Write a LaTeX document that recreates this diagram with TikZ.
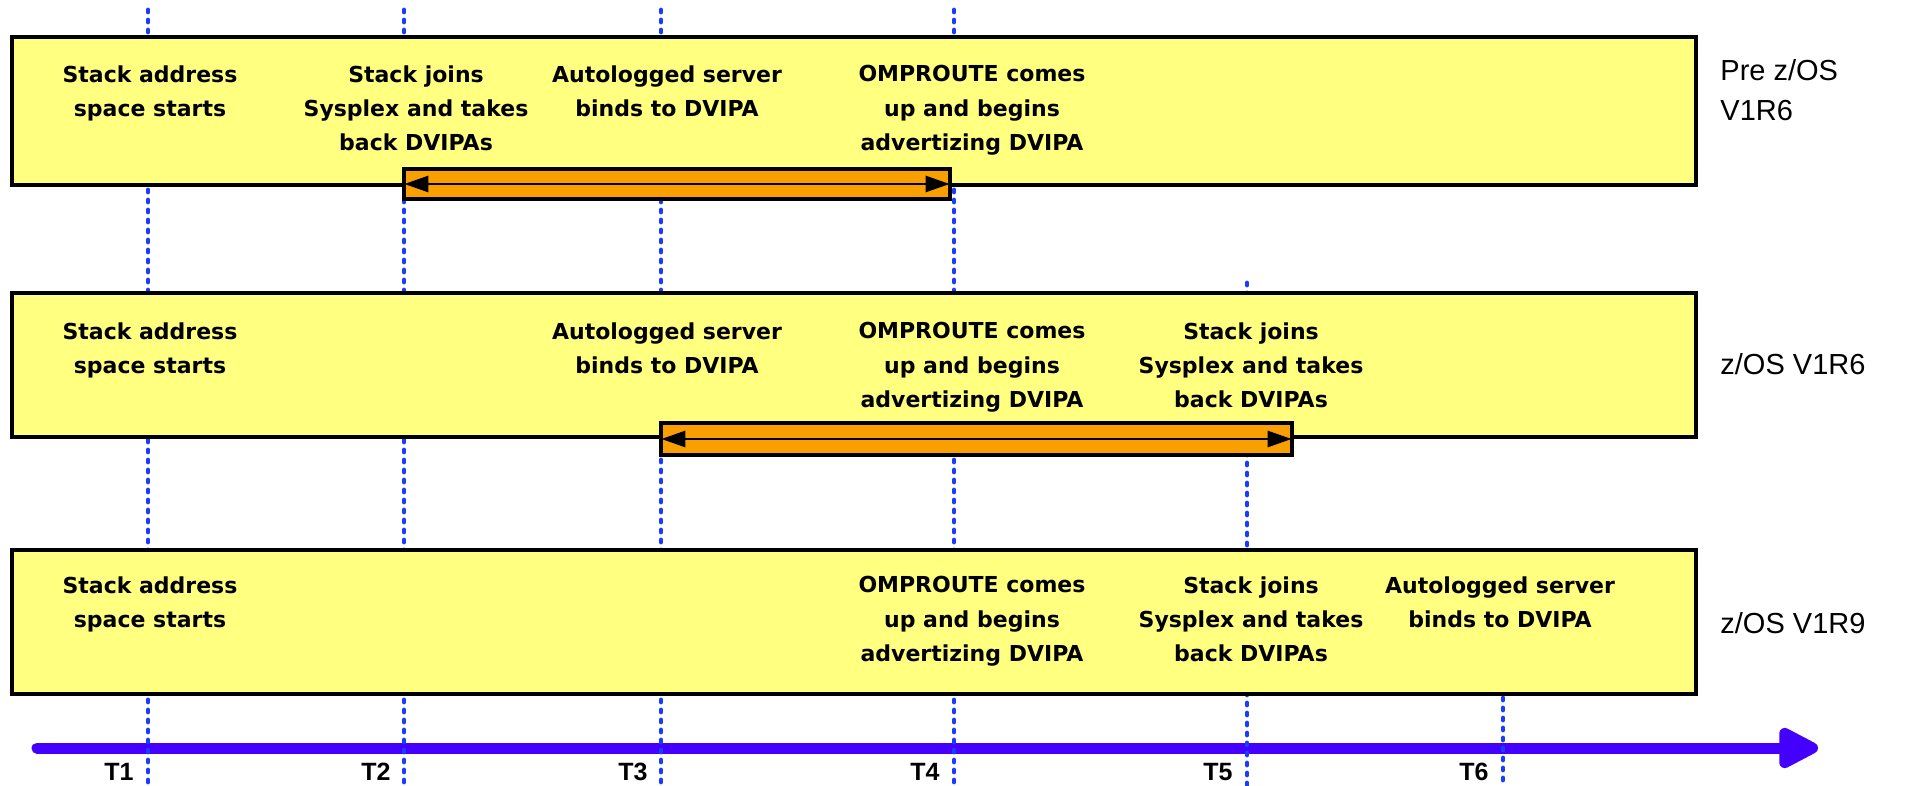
\documentclass[tikz,border=0pt]{standalone}
\usepackage{fontspec}
\setmainfont{DejaVu Sans}
\newfontfamily\arialf{Liberation Sans}
\usetikzlibrary{arrows.meta}
\definecolor{boxyellow}{HTML}{FFFF80}
\definecolor{barorange}{HTML}{F9A000}
\definecolor{dotblue}{HTML}{1A3CFF}
\definecolor{axisblue}{HTML}{4400FF}
\tikzset{
  tbox/.style={draw=black, line width=2.25pt, fill=boxyellow},
  bar/.style={draw=black, line width=2pt, fill=barorange, inner sep=0pt},
  span/.style={line width=1.4pt, {Triangle[length=12pt,width=8pt]}-{Triangle[length=12pt,width=8pt]}},
  tick/.style={dotblue, line width=2.4pt, line cap=round, dash pattern=on 1pt off 4pt},
  evt/.style={align=center, anchor=north, inner sep=0pt, font=\bfseries\fontsize{11}{17.2}\selectfont},
  rel/.style={align=left, anchor=west, inner sep=0pt, font=\arialf\fontsize{14.5}{20}\selectfont},
  tlab/.style={inner sep=0pt, font=\arialf\bfseries\fontsize{12.5}{14}\selectfont},
  axis/.style={axisblue, line width=5.5pt, line cap=round, -{Triangle[length=23pt,width=22pt,round]}}
}
\begin{document}
\begin{tikzpicture}[x=0.5pt,y=-0.5pt]
\useasboundingbox (0,0) rectangle (1916,786);
% time coordinates
\coordinate (a0) at (37,748);
\coordinate (a1) at (1818,748);
\coordinate (t1a) at (148,10);   \coordinate (t1b) at (148,786);
\coordinate (t2a) at (404,10);   \coordinate (t2b) at (404,786);
\coordinate (t3a) at (661,10);   \coordinate (t3b) at (661,786);
\coordinate (t4a) at (954,10);   \coordinate (t4b) at (954,786);
\coordinate (t5a) at (1247,283); \coordinate (t5b) at (1247,786);
\coordinate (t6a) at (1503,698); \coordinate (t6b) at (1503,786);
% axis
\draw[axis] (a0) -- (a1);
% dotted time lines
\foreach \i in {1,...,6} { \draw[tick] (t\i a) -- (t\i b); }
% boxes
\draw[tbox] (12,37) rectangle (1696,185);
\draw[tbox] (12,293) rectangle (1696,437);
\draw[tbox] (12,550) rectangle (1696,694);
% bars
\node[bar, minimum width=273pt, minimum height=15pt] (bar1) at (677,184) {};
\node[bar, minimum width=315.5pt, minimum height=16pt] (bar2) at (976.5,439) {};
\draw[span] ([xshift=1.2pt]bar1.west) -- ([xshift=-1.2pt]bar1.east);
\draw[span] ([xshift=1.2pt]bar2.west) -- ([xshift=-1.2pt]bar2.east);
% row 1 texts
\node[evt] (r1a) at (150,65) {Stack address\\space starts};
\node[evt] (r1b) at (416,65) {Stack joins\\Sysplex and takes\\back DVIPAs};
\node[evt] (r1c) at (667,65) {Autologged server\\binds to DVIPA};
\node[evt] (r1d) at (972,65) {OMPROUTE comes\\up and begins\\advertizing DVIPA};
% row 2 texts
\node[evt] (r2a) at (150,322) {Stack address\\space starts};
\node[evt] (r2c) at (667,322) {Autologged server\\binds to DVIPA};
\node[evt] (r2d) at (972,322) {OMPROUTE comes\\up and begins\\advertizing DVIPA};
\node[evt] (r2e) at (1251,322) {Stack joins\\Sysplex and takes\\back DVIPAs};
% row 3 texts
\node[evt] (r3a) at (150,576) {Stack address\\space starts};
\node[evt] (r3d) at (972,576) {OMPROUTE comes\\up and begins\\advertizing DVIPA};
\node[evt] (r3e) at (1251,576) {Stack joins\\Sysplex and takes\\back DVIPAs};
\node[evt] (r3f) at (1500,576) {Autologged server\\binds to DVIPA};
% release labels
\node[rel] (rel1) at (1720,90) {Pre z/OS\\V1R6};
\node[rel] (rel2) at (1720,364) {z/OS V1R6};
\node[rel] (rel3) at (1720,623) {z/OS V1R9};
% time labels
\node[tlab] (T1) at (119,772) {T1};
\node[tlab] (T2) at (376,772) {T2};
\node[tlab] (T3) at (633,772) {T3};
\node[tlab] (T4) at (925,772) {T4};
\node[tlab] (T5) at (1218,772) {T5};
\node[tlab] (T6) at (1474,772) {T6};
\end{tikzpicture}
\end{document}
